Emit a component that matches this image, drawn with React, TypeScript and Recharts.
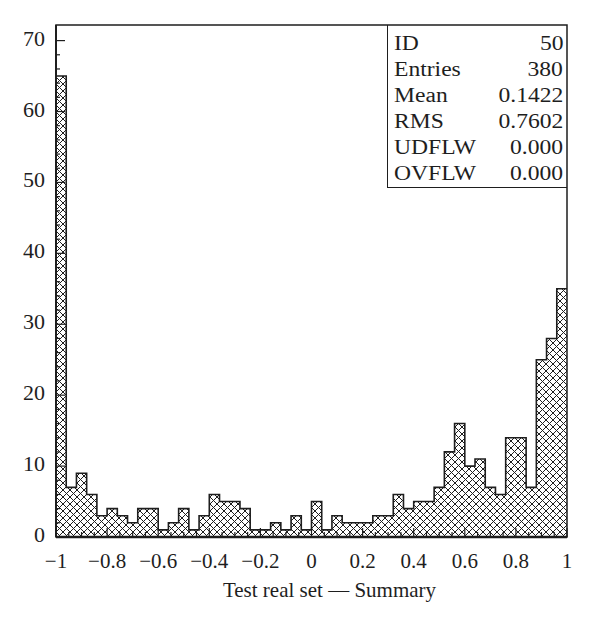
import React from "react";
import { ComposedChart, Area, XAxis, YAxis, ReferenceArea } from "recharts";

// histogram contents, 50 bins of width 0.04 from -1 to 1
const binCounts = [
  65, 7, 9, 6, 3, 4, 3, 2, 4, 4, 1, 2, 4, 1, 3, 6, 5, 5, 4, 1, 1, 2, 1, 3, 1,
  5, 1, 3, 2, 2, 2, 3, 3, 6, 4, 5, 5, 7, 12, 16, 10, 11, 7, 6, 14, 14, 7, 25, 28, 35,
];
const xMin = -1;
const xMax = 1;
const binWidth = 0.04;
const yTop = 72.2;

const xLabelTicks = [-1, -0.8, -0.6, -0.4, -0.2, 0, 0.2, 0.4, 0.6, 0.8, 1];
const yLabelTicks = [0, 10, 20, 30, 40, 50, 60, 70];

const statNames = ["ID", "Entries", "Mean", "RMS", "UDFLW", "OVFLW"];
const statValues = ["50", "380", "0.1422", "0.7602", "0.000", "0.000"];
const xTitle = "Test real set \u2014 Summary";

const INK = "#1e1e1e";
const FONT = "'Liberation Serif', 'Times New Roman', serif";
const FS = 21;

const round2 = (v: number) => Math.round(v * 100) / 100;

// step outline: one point per bin left edge, plus the closing right edge
const stepData = [
  ...binCounts.map((n, i) => ({ x: round2(xMin + i * binWidth), n })),
  { x: xMax, n: binCounts[binCounts.length - 1] },
];

// minor ticks every 0.05 on x, every 2 on y
const xTicks = Array.from({ length: 41 }, (_, i) => round2(xMin + i * 0.05));
const yTicks = Array.from({ length: 36 }, (_, i) => i * 2);

const isMajorX = (v: number) => xLabelTicks.some((t) => Math.abs(t - v) < 1e-6);
const fmt = (v: number) => (v < 0 ? `\u2212${Math.abs(v)}` : `${v}`);

const XTick = ({ x, y, payload }: any) => {
  const major = isMajorX(payload.value);
  return (
    <g>
      <line x1={x} x2={x} y1={y} y2={y - (major ? 9 : 5)} stroke={INK} strokeWidth={1.2} />
      {major && (
        <text x={x} y={y + 31} textAnchor="middle" fill={INK} fontSize={FS} fontFamily={FONT}>
          {fmt(payload.value)}
        </text>
      )}
    </g>
  );
};

const YTick = ({ x, y, payload }: any) => {
  const major = yLabelTicks.includes(payload.value);
  return (
    <g>
      <line x1={x} x2={x + (major ? 9 : 4)} y1={y} y2={y} stroke={INK} strokeWidth={1.2} />
      {major && (
        <text x={x - 11} y={y + 5} textAnchor="end" fill={INK} fontSize={FS + 1} fontFamily={FONT}>
          {payload.value}
        </text>
      )}
    </g>
  );
};

const renderTitle = (props: any) => {
  const vb = props.viewBox;
  return (
    <text
      x={vb.x + vb.width / 2 + 18}
      y={vb.y + vb.height}
      textAnchor="middle"
      fill={INK}
      fontSize={FS}
      fontFamily={FONT}
    >
      {xTitle}
    </text>
  );
};

// the stats text in the original is set a bit wider than plain Times
const wide = (origin: string): React.CSSProperties => ({
  display: "inline-block",
  transform: "scaleX(1.15)",
  transformOrigin: origin,
});

function StatsBox() {
  return (
    <div
      style={{
        position: "absolute",
        left: 387,
        top: 25,
        width: 180,
        height: 163,
        boxSizing: "border-box",
        borderLeft: `1.5px solid ${INK}`,
        borderBottom: `1.5px solid ${INK}`,
        padding: "5px 4px 0 6px",
        fontFamily: FONT,
        fontSize: 20.5,
        lineHeight: "26px",
        color: INK,
      }}
    >
      {statNames.map((name, i) => (
        <div key={name} style={{ display: "flex", justifyContent: "space-between" }}>
          <span style={wide("left center")}>{name}</span>
          <span style={wide("right center")}>{statValues[i]}</span>
        </div>
      ))}
    </div>
  );
}

export default function App() {
  return (
    <div style={{ position: "absolute", left: 0, top: 0, width: 616, height: 617, background: "#fff" }}>
      <ComposedChart
        width={616}
        height={617}
        data={stepData}
        margin={{ top: 25, right: 49, bottom: 20, left: 0 }}
      >
        <defs>
          <pattern id="xhatch" width={7} height={7} patternUnits="userSpaceOnUse">
            <rect width={7} height={7} fill="#fff" />
            <path d="M0,0 L7,7 M7,0 L0,7" stroke={INK} strokeWidth={1} />
          </pattern>
        </defs>
        <XAxis
          dataKey="x"
          type="number"
          domain={[xMin, xMax]}
          ticks={xTicks}
          interval={0}
          height={60}
          tickSize={0}
          tickMargin={0}
          tick={<XTick />}
          axisLine={{ stroke: INK, strokeWidth: 2.5 }}
          tickLine={false}
          allowDataOverflow
          label={renderTitle}
        />
        <YAxis
          type="number"
          domain={[0, yTop]}
          ticks={yTicks}
          interval={0}
          width={56}
          tickSize={0}
          tickMargin={0}
          tick={<YTick />}
          axisLine={{ stroke: INK, strokeWidth: 2 }}
          tickLine={false}
          allowDataOverflow
        />
        <Area
          type="stepAfter"
          dataKey="n"
          stroke={INK}
          strokeWidth={1.6}
          fill="url(#xhatch)"
          fillOpacity={1}
          dot={false}
          activeDot={false}
          isAnimationActive={false}
        />
        <ReferenceArea
          x1={xMin}
          x2={xMax}
          y1={0}
          y2={yTop}
          fill="none"
          stroke={INK}
          strokeWidth={1.5}
          ifOverflow="visible"
        />
      </ComposedChart>
      <StatsBox />
    </div>
  );
}
